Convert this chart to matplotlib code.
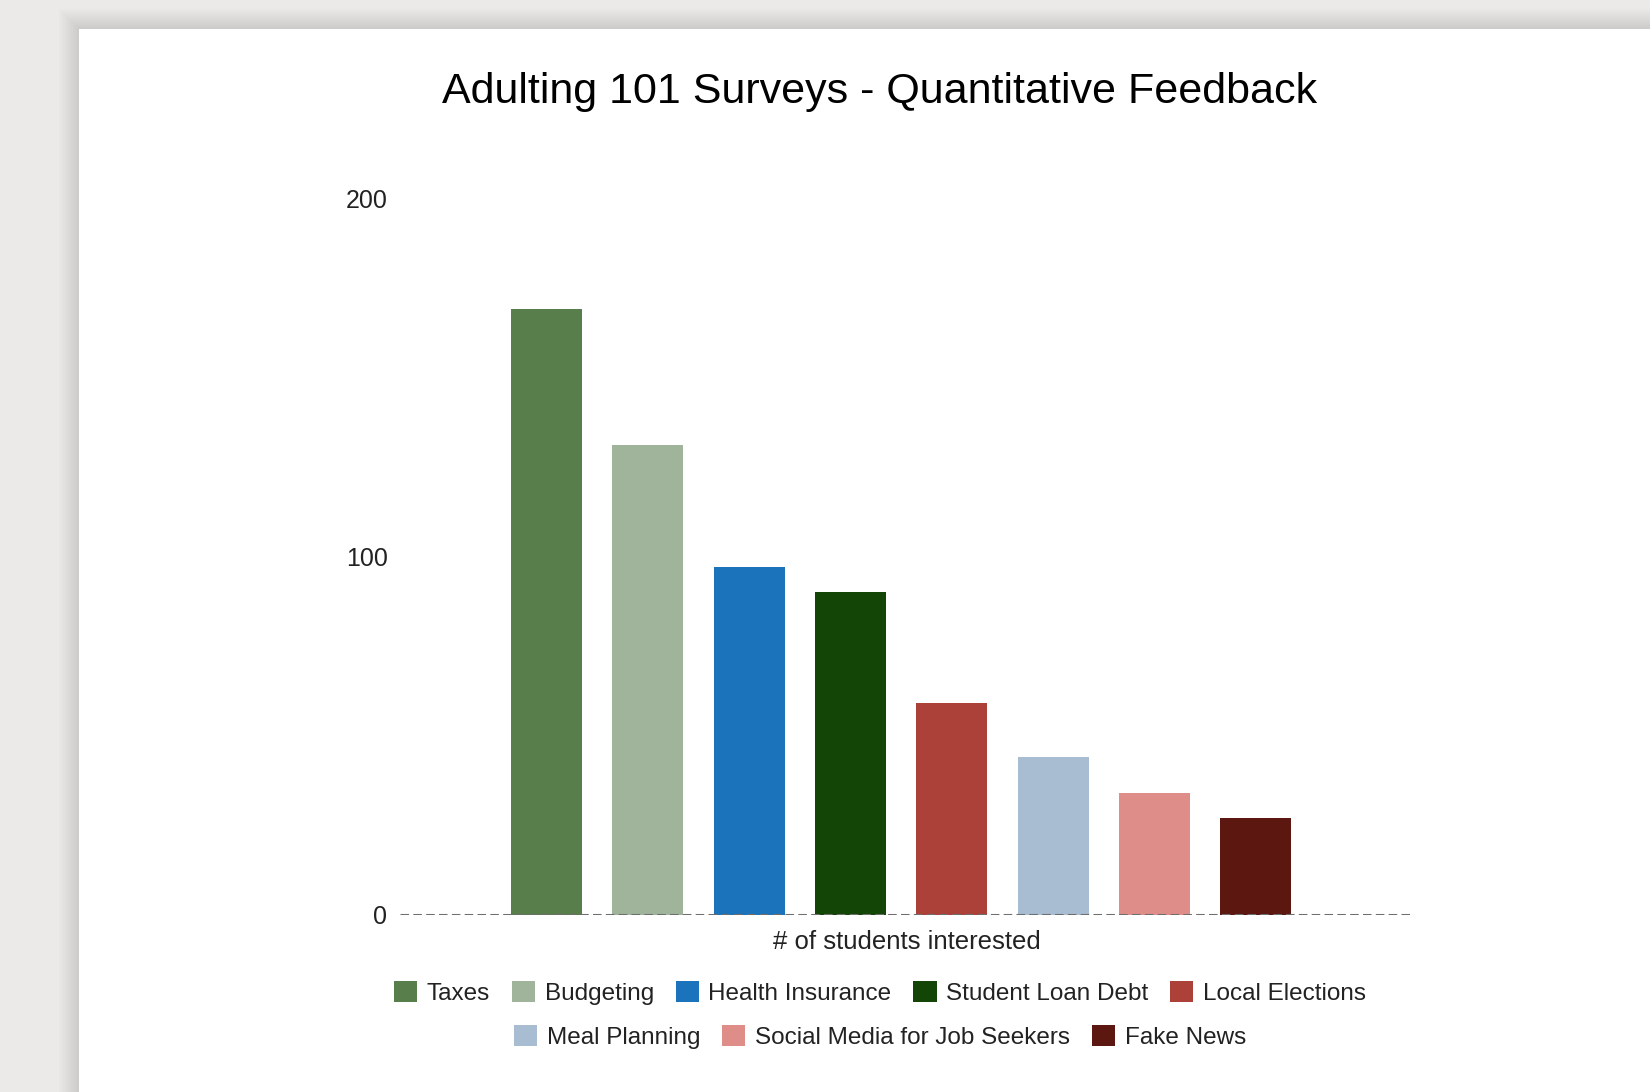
import matplotlib.pyplot as plt
from matplotlib.patches import Rectangle, Patch

# survey data
topics = ["Taxes", "Budgeting", "Health Insurance", "Student Loan Debt",
          "Local Elections", "Meal Planning", "Social Media for Job Seekers", "Fake News"]
students = [169, 131, 97, 90, 59, 44, 34, 27]
colors = ["#587e4b", "#a0b39b", "#1b73bb", "#134506",
          "#ab4139", "#a8bdd2", "#df8d88", "#5c1711"]
y_ticks = [0, 100, 200]

plt.rcParams['font.family'] = ['Liberation Sans', 'DejaVu Sans']

fig = plt.figure(figsize=(16.5, 10.92), dpi=100)
fig.patch.set_facecolor("#ebeae8")

# white "page" with a soft shadow, like the screenshot
W, H = 1650, 1092
for i in range(10):
    off = 20 - 2 * i
    fig.patches.append(Rectangle(((79 - off) / W, 0), 1, (1092 - 29 + off) / H,
                                 transform=fig.transFigure, facecolor="black",
                                 alpha=0.012, edgecolor="none", zorder=0))
fig.patches.append(Rectangle((79 / W, 0), 1, (1092 - 29) / H, transform=fig.transFigure,
                             facecolor="white", edgecolor="none", zorder=1))

ax = fig.add_axes([400 / W, 177.5 / H, 1013 / W, 716.5 / H])
ax.set_facecolor("none")
ax.set_zorder(2)

x = list(range(len(topics)))
ax.bar(x, students, width=0.7, color=colors, zorder=2)
ax.axhline(0, color="#6e6e6e", lw=2.2, ls=(0, (2.8, 1.4)), zorder=3)

ax.set_xlim(-1.445, 8.55)
ax.set_ylim(0, 200)
ax.set_yticks(y_ticks)
ax.set_yticklabels([str(v) for v in y_ticks], fontsize=18, color="#222222")
ax.tick_params(axis="y", length=0, pad=9)
ax.set_xticks([])
for s in ax.spines.values():
    s.set_visible(False)

ax.set_xlabel("# of students interested", fontsize=18.5, color="#222222", labelpad=11)

fig.text(880 / W, 1 - 91.5 / H, "Adulting 101 Surveys - Quantitative Feedback",
         ha="center", va="center", fontsize=31, color="black", zorder=5)

# legend in two centred rows
handles = [Patch(facecolor=c, edgecolor="none", label=t) for c, t in zip(colors, topics)]
leg_kw = dict(frameon=False, fontsize=17.5, handlelength=0.95, handleheight=0.95,
              handletextpad=0.4, columnspacing=0.9, loc="center")
leg1 = fig.legend(handles=handles[:5], ncol=5, bbox_to_anchor=(880 / W, 1 - 993 / H), **leg_kw)
leg2 = fig.legend(handles=handles[5:], ncol=3, bbox_to_anchor=(880 / W, 1 - 1037 / H), **leg_kw)
for lg in (leg1, leg2):
    lg.set_zorder(5)
    for t in lg.get_texts():
        t.set_color("#222222")

fig.savefig("out.png", dpi=100, facecolor=fig.get_facecolor())
